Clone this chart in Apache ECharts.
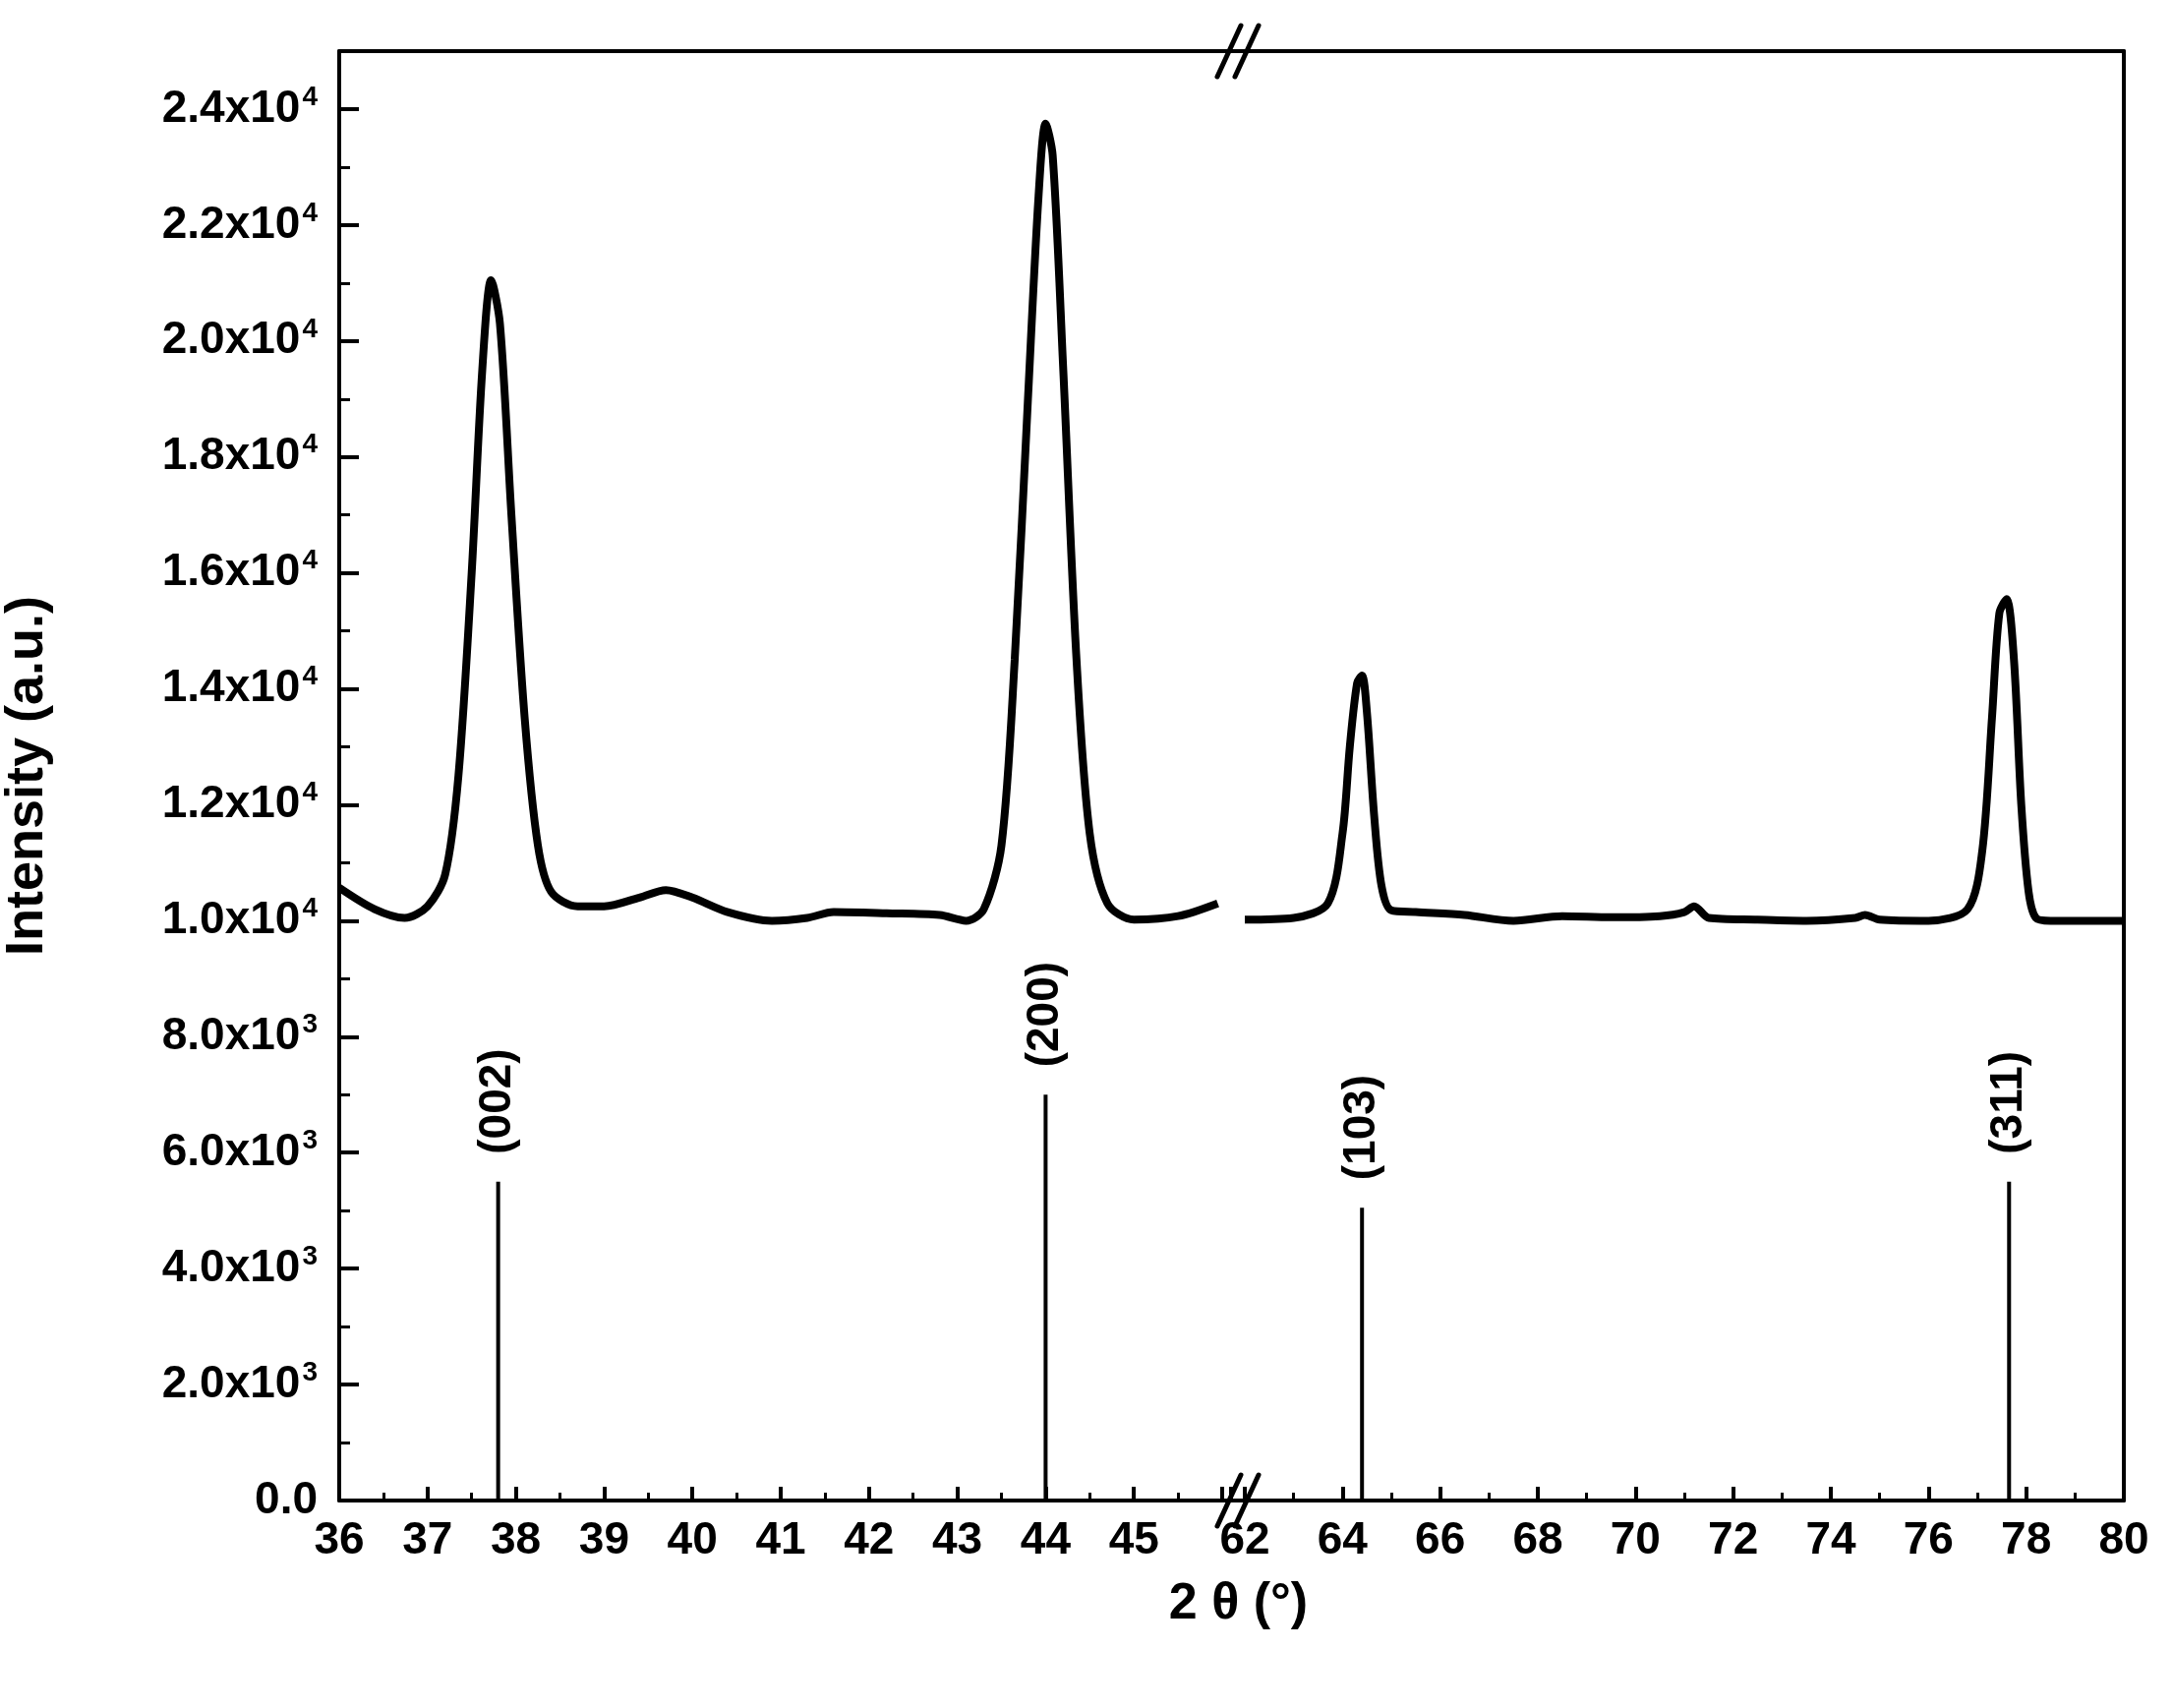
<!DOCTYPE html>
<html>
<head>
<meta charset="utf-8">
<script src="https://cdn.jsdelivr.net/npm/echarts@6/dist/echarts.min.js"></script>
<style>html,body{margin:0;background:#fff}#chart{width:2210px;height:1737px}</style>
</head>
<body>
<div id="chart"></div>
<script>
// Measured XRD pattern, left part (2θ, intensity)
const leftX = [36, 36.4, 36.74, 37.0, 37.2, 37.35, 37.5, 37.62, 37.72, 37.82, 37.95, 38.1, 38.25, 38.4, 38.7, 39.0, 39.4, 39.7, 40.0, 40.4, 40.9, 41.3, 41.6, 42.2, 42.8, 43.1, 43.3, 43.5, 43.65, 43.8, 43.92, 44.0, 44.08, 44.2, 44.35, 44.5, 44.7, 45.0, 45.5, 45.95];
const leftY = [10570, 10200, 10050, 10250, 10800, 12500, 16000, 19500, 21050, 20300, 17000, 13500, 11300, 10500, 10250, 10250, 10400, 10530, 10400, 10150, 10000, 10050, 10150, 10130, 10100, 10000, 10200, 11300, 14500, 19000, 22500, 23750, 23200, 19500, 14500, 11500, 10300, 10020, 10080, 10300];
// right part
const rightX = [62, 63, 63.7, 64.0, 64.15, 64.3, 64.4, 64.5, 64.65, 64.8, 65.0, 65.5, 66.5, 67.5, 68.5, 69.5, 70.5, 71.0, 71.2, 71.5, 72.5, 73.5, 74.5, 74.7, 75.0, 76.0, 76.8, 77.1, 77.3, 77.45, 77.6, 77.75, 77.9, 78.05, 78.2, 78.5, 79.2, 80];
const rightY = [10020, 10050, 10300, 11500, 13000, 14100, 14230, 13600, 11800, 10600, 10180, 10150, 10100, 10000, 10080, 10060, 10080, 10150, 10250, 10050, 10020, 10000, 10050, 10100, 10020, 10000, 10200, 11200, 13500, 15300, 15550, 14500, 12000, 10500, 10050, 10000, 10000, 10000];
// Reference peaks (hkl)
const refX = [37.8, 44.0, 64.4, 77.65];
const refY = [5500, 7000, 5050, 5500];
const refLabels = ['(002)', '(200)', '(103)', '(311)'];

const FONT = 'Liberation Sans';
const LEFT = 344, BREAK_L = 1252, BREAK_R = 1266, RIGHT = 2160, TOP = 52, BOTTOM = 1526;
const W = 2210, H = 1737;

function ylab(v) {
  if (v === 0) return '0.0';
  if (v > 24000) return '';
  const e = Math.floor(Math.log10(v));
  return (v / Math.pow(10, e)).toFixed(1) + 'x10{s|' + e + '}';
}
const axisLine = {show: true, lineStyle: {color: '#000', width: 4}};
const tickSt = {lineStyle: {color: '#000', width: 4}};
const xLabel = {color: '#000', fontFamily: FONT, fontWeight: 'bold', fontSize: 46, margin: 18};

function pts(xs, ys) { return xs.map((x, i) => [x, ys[i]]); }
function sticks(lo, hi) {
  return refX.map((x, i) => ({value: [x, refY[i]], name: refLabels[i]})).filter(d => d.value[0] >= lo && d.value[0] <= hi);
}
const stickLabel = {
  show: true, position: 'top', rotate: 90, distance: 28, align: 'left', verticalAlign: 'middle',
  formatter: p => p.name, color: '#000', fontFamily: FONT, fontWeight: 'bold', fontSize: 46
};

const chart = echarts.init(document.getElementById('chart'));
const option = {
  animation: false,
  backgroundColor: '#fff',
  grid: [
    {left: LEFT, top: TOP, width: BREAK_L - LEFT, bottom: H - BOTTOM},
    {left: BREAK_R, top: TOP, width: RIGHT - BREAK_R, bottom: H - BOTTOM}
  ],
  xAxis: [
    {type: 'value', gridIndex: 0, min: 36, max: 46.1, interval: 1,
     axisLine: axisLine, axisTick: Object.assign({inside: true, length: 14}, tickSt),
     minorTick: {show: true, splitNumber: 2, length: 8, lineStyle: {color: '#000', width: 3}},
     splitLine: {show: false},
     axisLabel: Object.assign({showMaxLabel: false, formatter: v => v > 45 ? '' : String(v)}, xLabel),
     name: '2 θ (°)', nameLocation: 'middle', nameGap: 80,
     nameTextStyle: {color: '#000', fontFamily: FONT, fontWeight: 'bold', fontSize: 52, padding: [0, 0, 0, 1830 - 908]}},
    {type: 'value', gridIndex: 1, min: 62, max: 80, interval: 2,
     axisLine: axisLine, axisTick: Object.assign({inside: true, length: 14}, tickSt),
     minorTick: {show: true, splitNumber: 2, length: 8, lineStyle: {color: '#000', width: 3}},
     splitLine: {show: false}, axisLabel: xLabel},
    {type: 'value', gridIndex: 0, position: 'top', min: 36, max: 46.1, axisLine: axisLine, axisTick: {show: false}, axisLabel: {show: false}, splitLine: {show: false}},
    {type: 'value', gridIndex: 1, position: 'top', min: 62, max: 80, axisLine: axisLine, axisTick: {show: false}, axisLabel: {show: false}, splitLine: {show: false}}
  ],
  yAxis: [
    {type: 'value', gridIndex: 0, min: 0, max: 25000, interval: 2000,
     axisLine: axisLine, axisTick: Object.assign({inside: true, length: 20}, tickSt),
     minorTick: {show: true, splitNumber: 2, length: 11, lineStyle: {color: '#000', width: 3}},
     splitLine: {show: false},
     axisLabel: {formatter: ylab, color: '#000', fontFamily: FONT, fontWeight: 'bold', fontSize: 46, margin: 22,
       rich: {s: {fontSize: 28, verticalAlign: 'top', fontWeight: 'bold', fontFamily: FONT, padding: [0, 0, 24, 2]}}},
     name: 'Intensity (a.u.)', nameLocation: 'middle', nameGap: 290, nameRotate: 90,
     nameTextStyle: {color: '#000', fontFamily: FONT, fontWeight: 'bold', fontSize: 54}},
    {type: 'value', gridIndex: 1, min: 0, max: 25000, position: 'right',
     axisLine: axisLine, axisTick: {show: false}, axisLabel: {show: false}, splitLine: {show: false}}
  ],
  series: [
    {type: 'line', xAxisIndex: 0, yAxisIndex: 0, data: pts(leftX, leftY), smooth: 0.3, showSymbol: false,
     lineStyle: {color: '#000', width: 8}},
    {type: 'line', xAxisIndex: 1, yAxisIndex: 1, data: pts(rightX, rightY), smooth: 0.3, showSymbol: false,
     lineStyle: {color: '#000', width: 8}},
    {type: 'bar', xAxisIndex: 0, yAxisIndex: 0, barWidth: 4, data: sticks(36, 46.1),
     itemStyle: {color: '#000'}, label: stickLabel},
    {type: 'bar', xAxisIndex: 1, yAxisIndex: 1, barWidth: 4, data: sticks(62, 80),
     itemStyle: {color: '#000'}, label: stickLabel}
  ]
};
chart.setOption(option);

// axis break: bridge the spines and draw the // marks
const mid = (BREAK_L + BREAK_R) / 2;
function slashes(y) {
  return [-9, 9].map(dx => ({
    type: 'line', shape: {x1: mid + dx - 12, y1: y + 26, x2: mid + dx + 12, y2: y - 26},
    style: {stroke: '#000', lineWidth: 5, lineCap: 'round'}
  }));
}
chart.setOption({graphic: [
  {type: 'rect', shape: {x: BREAK_L - 2, y: TOP - 30, width: BREAK_R - BREAK_L + 4, height: 60}, style: {fill: '#fff'}},
  {type: 'rect', shape: {x: BREAK_L - 2, y: BOTTOM - 30, width: BREAK_R - BREAK_L + 4, height: 60}, style: {fill: '#fff'}},
  {type: 'line', shape: {x1: BREAK_L, y1: TOP, x2: BREAK_R, y2: TOP}, style: {stroke: '#000', lineWidth: 4}},
  {type: 'line', shape: {x1: BREAK_L, y1: BOTTOM, x2: BREAK_R, y2: BOTTOM}, style: {stroke: '#000', lineWidth: 4}}
].concat(slashes(TOP), slashes(BOTTOM))});
</script>
</body>
</html>
